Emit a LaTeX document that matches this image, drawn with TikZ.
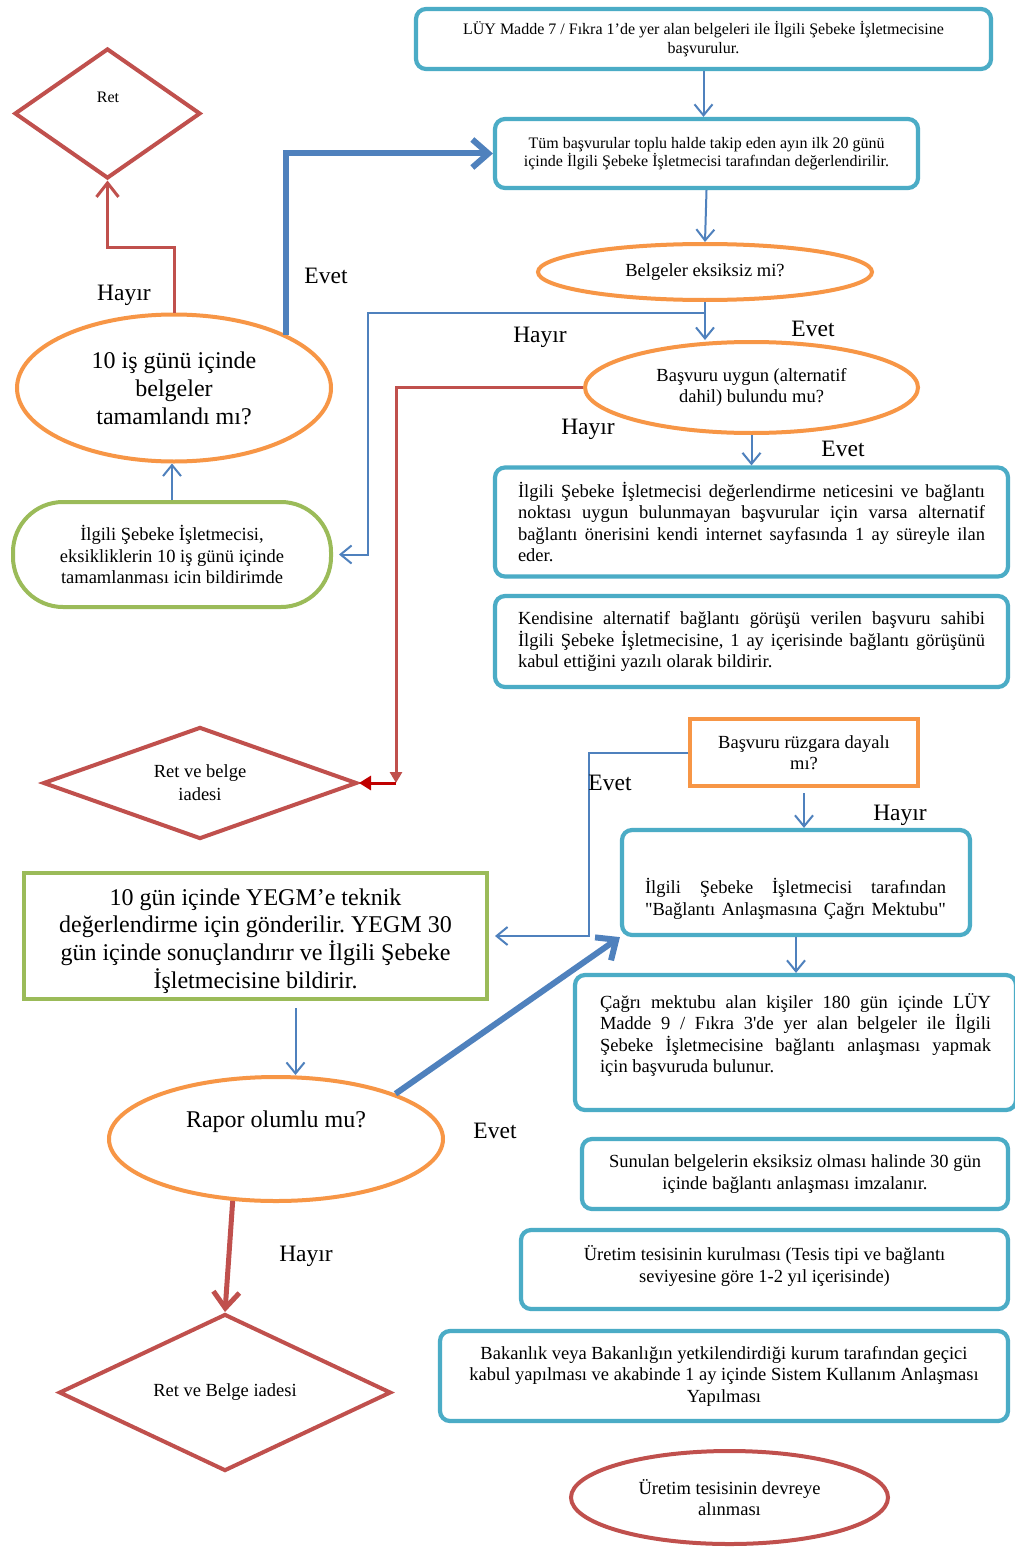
\documentclass[tikz,border=0pt]{standalone}
\usepackage{fontspec}
\setmainfont{Liberation Serif}[Ligatures=TeXOff]
\usetikzlibrary{shapes.geometric,arrows.meta,calc}
\definecolor{cyanb}{HTML}{4BACC6}
\definecolor{orng}{HTML}{F79646}
\definecolor{redb}{HTML}{C0504D}
\definecolor{grn}{HTML}{9BBB59}
\definecolor{blu}{HTML}{4F81BD}
\definecolor{dred}{HTML}{C00000}
\newcommand\fsm{\fontsize{16}{19}\selectfont}
\newcommand\fmd{\fontsize{18.5}{21.5}\selectfont}
\newcommand\fbg{\fontsize{24}{28}\selectfont}
\newcommand\flb{\fontsize{23.5}{28}\selectfont}
\newcommand\fret{\fontsize{16}{19}\selectfont}
\frenchspacing
\begin{document}
\frenchspacing
\begin{tikzpicture}[x=1pt,y=-1pt,
  cbox/.style={draw=cyanb, line width=4.2pt, rounded corners=10pt, inner sep=0pt, align=center, font=\fmd},
  oell/.style={ellipse, draw=orng, line width=4pt, inner sep=0pt, align=center, font=\fmd},
  rdia/.style={diamond, draw=redb, line width=4pt, inner sep=0pt, align=center, font=\fmd, aspect=2.5},
  gbox/.style={draw=grn, line width=4pt, inner sep=0pt, align=center},
  lab/.style={font=\flb, inner sep=0pt},
  thinar/.style={draw=blu, line width=2pt, -{Straight Barb[length=11pt,width=18pt]}},
  thickar/.style={draw=blu, line width=6pt, -{Straight Barb[length=16pt,width=28pt]}},
  redar/.style={draw=redb, line width=3pt, -{Straight Barb[length=14pt,width=22pt]}},
  redthick/.style={draw=redb, line width=5pt, -{Straight Barb[length=16pt,width=26pt]}}
]
\useasboundingbox[fill=white] (0,0) rectangle (1014,1549);

% right column
\node[cbox, minimum width=575pt, minimum height=60pt, font=\fsm] (A) at (703.5,39)
  {LÜY Madde 7 / Fıkra 1’de yer alan belgeleri ile İlgili Şebeke İşletmecisine\\başvurulur.};
\node[cbox, minimum width=423pt, minimum height=69pt, font=\fontsize{16}{18}\selectfont] (B) at (706.5,153.5)
  {Tüm başvurular toplu halde takip eden ayın ilk 20 günü\\içinde İlgili Şebeke İşletmecisi tarafından değerlendirilir.};
\node[oell, minimum width=334pt, minimum height=56pt] (C) at (705,272) {Belgeler eksiksiz mi?};
\node[oell, minimum width=333pt, minimum height=91pt] (D) at (751.5,387.5) {Başvuru uygun (alternatif\\dahil) bulundu mu?};
\node[cbox, minimum width=513pt, minimum height=109pt, align=left] (E) at (751.5,522)
  {\makebox[467pt][s]{İlgili Şebeke İşletmecisi değerlendirme neticesini ve bağlantı}\\
   \makebox[467pt][s]{noktası uygun bulunmayan başvurular için varsa alternatif}\\
   \makebox[467pt][s]{bağlantı önerisini kendi internet sayfasında 1 ay süreyle ilan}\\
   \makebox[467pt][l]{eder.}};
\node[cbox, minimum width=513pt, minimum height=91pt, align=left] (F) at (751.5,641.5)
  {\makebox[467pt][s]{Kendisine alternatif bağlantı görüşü verilen başvuru sahibi}\\
   \makebox[467pt][s]{İlgili Şebeke İşletmecisine, 1 ay içerisinde bağlantı görüşünü}\\
   \makebox[467pt][l]{kabul ettiğini yazılı olarak bildirir.}};
\node[draw=orng, line width=4pt, inner sep=0pt, align=center, font=\fmd, minimum width=228pt, minimum height=67pt] (G) at (804,752.5)
  {Başvuru rüzgara dayalı\\mı?};
\node[cbox, minimum width=348pt, minimum height=105pt] (H) at (796,882.5) {};
\node[font=\fmd, align=left, inner sep=0pt] (Ht) at (795.5,899)
  {\makebox[301pt][s]{İlgili Şebeke İşletmecisi tarafından}\\
   \makebox[301pt][s]{"Bağlantı Anlaşmasına Çağrı Mektubu"}};
\node[cbox, minimum width=441pt, minimum height=135pt] (I) at (795.5,1042.5) {};
\node[font=\fmd, align=left, inner sep=0pt] (It) at (795.5,1035)
  {\makebox[391pt][s]{Çağrı mektubu alan kişiler 180 gün içinde LÜY}\\
   \makebox[391pt][s]{Madde 9 / Fıkra 3'de yer alan belgeler ile İlgili}\\
   \makebox[391pt][s]{Şebeke İşletmecisine bağlantı anlaşması yapmak}\\
   \makebox[391pt][l]{için başvuruda bulunur.}};
\node[cbox, minimum width=426pt, minimum height=70pt] (J) at (795,1174)
  {Sunulan belgelerin eksiksiz olması halinde 30 gün\\içinde bağlantı anlaşması imzalanır.};
\node[cbox, minimum width=487pt, minimum height=79pt] (K) at (764.5,1269.5) {};
\node[font=\fmd, align=center, inner sep=0pt] (Kt) at (764.5,1266)
  {Üretim tesisinin kurulması (Tesis tipi ve bağlantı\\seviyesine göre 1-2 yıl içerisinde)};
\node[cbox, minimum width=568pt, minimum height=90pt] (L) at (724,1376)
  {Bakanlık veya Bakanlığın yetkilendirdiği kurum tarafından geçici\\kabul yapılması ve akabinde 1 ay içinde Sistem Kullanım Anlaşması\\Yapılması};
\node[ellipse, draw=redb, line width=4pt, inner sep=0pt, align=center, font=\fmd, minimum width=317pt, minimum height=93pt] (M) at (729.5,1497.5)
  {Üretim tesisinin devreye\\alınması};

% left column
\node[rdia, minimum width=186pt, minimum height=130pt] (Ret) at (107.5,113.5) {};
\node[font=\fret, inner sep=0pt] (Rett) at (108,97) {Ret};
\node[oell, minimum width=314pt, minimum height=147pt, font=\fbg] (Q) at (174,388)
  {10 iş günü içinde\\belgeler\\tamamlandı mı?};
\node[gbox, rounded corners=50pt, minimum width=318pt, minimum height=105pt, font=\fmd] (S) at (172,554.5)
  {İlgili Şebeke İşletmecisi,\\eksikliklerin 10 iş günü içinde\\tamamlanması icin bildirimde};
\node[rdia, minimum width=314pt, minimum height=112pt, font=\fontsize{18.5}{23}\selectfont] (RB1) at (200,783)
  {Ret ve belge\\iadesi};
\node[gbox, minimum width=463pt, minimum height=126pt] (GR) at (255.5,936) {};
\node[font=\fontsize{24}{27.7}\selectfont, align=center, inner sep=0pt] (GRt) at (255.5,941)
  {10 gün içinde YEGM’e teknik\\değerlendirme için gönderilir. YEGM 30\\gün içinde sonuçlandırır ve İlgili Şebeke\\İşletmecisine bildirir.};
\node[oell, minimum width=334pt, minimum height=124pt] (R) at (276,1139) {};
\node[font=\fbg, inner sep=0pt] (Rt) at (276,1122) {Rapor olumlu mu?};
\node[rdia, minimum width=332pt, minimum height=157pt] (RB2) at (225,1392.5) {Ret ve Belge iadesi};

% connectors
\draw[thinar] (A.south) -- (A.south |- B.north);
\draw[thinar] (B.south) -- (C.north);
\draw[thinar] (C.south) -- (C.south |- D.north);
\coordinate (c1) at ($(C.south)+(0,11)$);
\draw[thinar, shorten >=6pt] (c1) -| ([xshift=35pt]S.east) -- (S.east);
\draw[thinar] (D.south) -- (D.south |- E.north);
\coordinate (r1) at (396,783);
\draw[draw=redb, line width=3pt, -{Triangle[length=11pt,width=12pt]}] (D.west) -| (r1);
\draw[draw=dred, line width=3pt, -{Triangle[length=12pt,width=14pt]}] (r1) -- (RB1.east);
\draw[thinar] (S.north) -- (S.north |- Q.south);
\draw[redar] (Q.north) -- ++(0,-65) -| (Ret.south);
\draw[thickar] (Q.north east) |- (B.west);
\draw[thinar, shorten <=5pt] (G.south) -- (G.south |- H.north);
\draw[thinar, shorten >=6pt] (G.west) -| ([xshift=100pt]GR.east) -- (GR.east);
\draw[thinar] (H.south) -- (H.south |- I.north);
\draw[thinar, shorten <=7pt] ([xshift=40pt]GR.south) -- ([xshift=40pt]GR.south |- R.north);
\draw[thickar] (R.north east) -- (H.south west);
\draw[redthick] (R.235) -- (RB2.north);

% labels
\node[lab] (l1) at (124,295) {Hayır};
\node[lab] (l2) at (326,276) {Evet};
\node[lab] (l3) at (540,337) {Hayır};
\node[lab] (l4) at (813,329) {Evet};
\node[lab] (l5) at (588,429) {Hayır};
\node[lab] (l6) at (843,449) {Evet};
\node[lab] (l7) at (610,783) {Evet};
\node[lab] (l8) at (900,815) {Hayır};
\node[lab] (l9) at (495,1131) {Evet};
\node[lab] (l10) at (306,1256) {Hayır};
\end{tikzpicture}
\end{document}
